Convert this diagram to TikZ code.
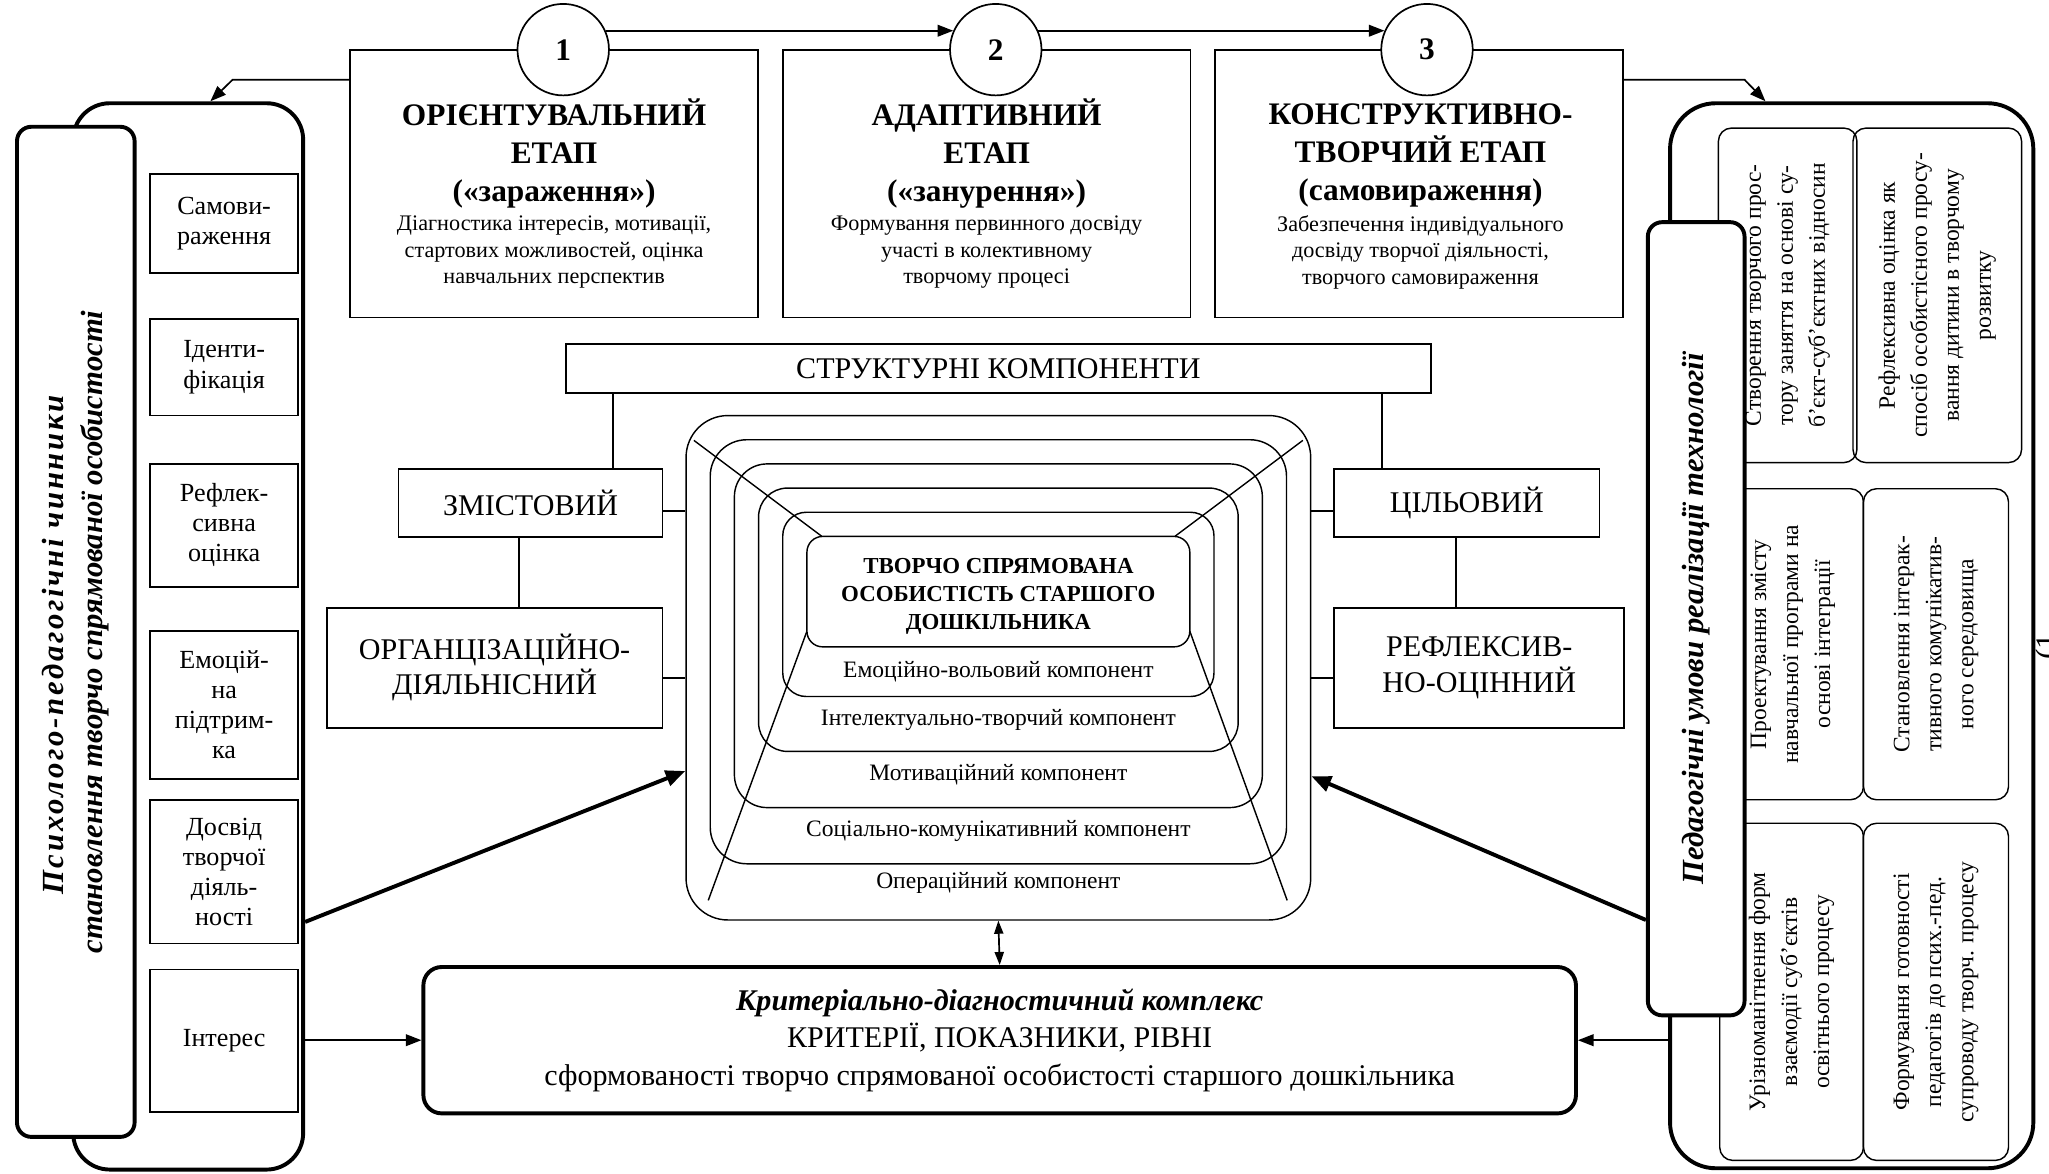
\documentclass[tikz,border=0pt]{standalone}
\usepackage{fontspec}
\setmainfont{Liberation Serif}
\usetikzlibrary{arrows.meta,calc}

\tikzset{
  stagebox/.style={draw, line width=1.3pt, minimum width=312pt, minimum height=205pt, inner sep=0pt},
  stagenum/.style={draw, circle, fill=white, line width=1.3pt, minimum size=70pt, inner sep=0pt, font=\fontsize{24}{28}\selectfont\bfseries},
  stagehead/.style={align=center, inner sep=0pt, font=\fontsize{24}{29}\selectfont\bfseries},
  stagetext/.style={align=center, inner sep=0pt, font=\fontsize{17}{20.5}\selectfont},
  panel/.style={draw, line width=3pt, rounded corners=#1, inner sep=0pt},
  tallpanel/.style={draw, fill=white, line width=3pt, rounded corners=11pt, rotate=90, align=center, inner sep=0pt, font=\fontsize{23.5}{30}\selectfont\bfseries\itshape},
  factor/.style={draw, line width=1.3pt, minimum width=113pt, align=center, inner sep=0pt, font=\fontsize{20}{23}\selectfont},
  compbox/.style={draw, line width=1.3pt, align=center, inner sep=0pt, font=\fontsize{23}{27}\selectfont},
  ring/.style={draw, line width=1.1pt, rounded corners=#1, inner sep=0pt},
  ringlabel/.style={inner sep=0pt, font=\fontsize{18}{21}\selectfont},
  condbox/.style={draw, line width=1.1pt, rounded corners=10pt, rotate=90, align=center, inner sep=0pt, font=\fontsize{18}{24.5}\selectfont},
  link/.style={line width=1.3pt},
  arr/.style={line width=1.3pt, -{Triangle[length=12pt,width=9pt]}},
  dblarr/.style={line width=1.3pt, {Triangle[length=10pt,width=7pt]}-{Triangle[length=10pt,width=7pt]}},
  thickarr/.style={line width=3pt, -{Triangle[length=15pt,width=12pt]}},
}

\begin{document}
\begin{tikzpicture}[x=1pt,y=1pt,yscale=-1,xscale=1]
  \useasboundingbox (0,0) rectangle (1568,898);
  %
  %Stages
  \node[stagebox] (st1) at (424,140.5) {};
  \node[stagebox] (st2) at (755,140.5) {};
  \node[stagebox] (st3) at (1086,140.5) {};
  \node[stagenum] (c1) at (431,38) {1};
  \node[stagenum] (c2) at (762,38) {2};
  \node[stagenum] (c3) at (1092,38) {3};
  \draw[arr] (c1.24) -- (c2.156);
  \draw[arr] (c2.24) -- (c3.156);
  \node[stagehead] (st1h) at (424,117.5) {ОРІЄНТУВАЛЬНИЙ\\ЕТАП\\(«зараження»)};
  \node[stagetext] (st1d) at (424,193) {Діагностика інтересів, мотивації,\\стартових можливостей, оцінка\\навчальних перспектив};
  \node[stagehead] (st2h) at (755,117.5) {АДАПТИВНИЙ\\ЕТАП\\(«занурення»)};
  \node[stagetext] (st2d) at (755,193) {Формування первинного досвіду\\участі в колективному\\творчому процесі};
  \node[stagehead] (st3h) at (1087,119) {КОНСТРУКТИВНО-\\ТВОРЧИЙ ЕТАП\\(самовираження)};
  \node[stagetext] (st3d) at (1087,193) {Забезпечення індивідуального\\досвіду творчої діяльності,\\творчого самовираження};
  %
  %Left panel
  \node[panel=28pt, minimum width=176pt, minimum height=816pt] (lp) at (144,487) {};
  \node[factor, minimum height=76pt] (f1) at (171.5,171) {Самови-\\раження};
  \node[factor, minimum height=74pt] (f2) at (171.5,281) {Іденти-\\фікація};
  \node[factor, minimum height=94pt] (f3) at (171.5,402) {Рефлек-\\сивна\\оцінка};
  \node[factor, minimum height=113pt] (f4) at (171.5,539.5) {Емоцій-\\на\\підтрим-\\ка};
  \node[factor, minimum height=110pt] (f5) at (171.5,667) {Досвід\\творчої\\діяль-\\ності};
  \node[factor, minimum height=109pt] (f6) at (171.5,796.5) {Інтерес};
  \node[tallpanel, minimum width=773pt, minimum height=90pt] (lpt) at (58,483.5)
    {{\addfontfeature{LetterSpace=9}Психолого-педагогічні чинники}\hspace*{20pt}\\становлення творчо спрямованої особистості};
  %
  %Structure
  \node[compbox, minimum width=662pt, minimum height=38pt] (sk) at (764,282) {СТРУКТУРНІ КОМПОНЕНТИ};
  \node[compbox, minimum width=202pt, minimum height=52pt] (zm) at (406,385) {ЗМІСТОВИЙ};
  \node[compbox, minimum width=257pt, minimum height=92pt] (org) at (378.5,511) {ОРГАНЦІЗАЦІЙНО-\\ДІЯЛЬНІСНИЙ};
  \node[compbox, minimum width=203pt, minimum height=52pt] (cl) at (1122.5,385) {ЦІЛЬОВИЙ};
  \node[compbox, minimum width=222pt, minimum height=92pt] (rfo) at (1132,511) {РЕФЛЕКСИВ-\\НО-ОЦІННИЙ};
  %
  %Rings
  \foreach \k/\bot/\rad in {0/704/32, 1/661/28, 2/618/25, 3/575/22, 4/533/18} {
    \pgfmathsetmacro\rw{478-37*\k}
    \pgfmathsetmacro\rh{\bot-318-18.5*\k}
    \pgfmathsetmacro\ry{(\bot+318+18.5*\k)/2}
    \node[ring=\rad pt, minimum width=\rw pt, minimum height=\rh pt] (ring\k) at (764,\ry) {};
  }
  \draw[line width=1.1pt] (531,337) -- (629,410.5);
  \draw[line width=1.1pt] (997,337) -- (899,410.5);
  \draw[line width=1.1pt] (617.5,483) -- (542,689);
  \draw[line width=1.1pt] (910.5,483) -- (985,689);
  \node[ring=12pt, fill=white, minimum width=293pt, minimum height=84.5pt] (core) at (764,452.75) {};
  \node[align=center, inner sep=0pt, font=\fontsize{17.5}{21.5}\selectfont\bfseries] (coret) at (764,456.5)
    {ТВОРЧО СПРЯМОВАНА\\ОСОБИСТІСТЬ СТАРШОГО\\ДОШКІЛЬНИКА};
  \node[ringlabel] (lb1) at (764,514) {Емоційно-вольовий компонент};
  \node[ringlabel] (lb2) at (764,551) {Інтелектуально-творчий компонент};
  \node[ringlabel] (lb3) at (764,593) {Мотиваційний компонент};
  \node[ringlabel] (lb4) at (764,636) {Соціально-комунікативний компонент};
  \node[ringlabel] (lb5) at (764,676) {Операційний компонент};
  %
  %Structure links
  \coordinate (skl) at ([xshift=37pt]sk.south west);
  \coordinate (skr) at ([xshift=-38pt]sk.south east);
  \coordinate (zml) at ([xshift=-9pt]zm.south);
  \coordinate (cll) at ([xshift=-8.5pt]cl.south);
  \draw[link] (skl) -- (skl |- zm.north);
  \draw[link] (skr) -- (skr |- cl.north);
  \draw[link] (zml) -- (zml |- org.north);
  \draw[link] (cll) -- (cll |- rfo.north);
  \coordinate (zme) at ($(zm.east)+(0,6)$);
  \coordinate (orge) at ($(org.east)+(0,8)$);
  \coordinate (clw) at ($(cl.west)+(0,6)$);
  \coordinate (rfow) at ($(rfo.west)+(0,8)$);
  \draw[link] (zme) -- (zme -| ring0.west);
  \draw[link] (orge) -- (orge -| ring0.west);
  \draw[link] (clw) -- (clw -| ring0.east);
  \draw[link] (rfow) -- (rfow -| ring0.east);
  %
  %Criteria
  \node[panel=14pt, minimum width=882pt, minimum height=112pt, align=center,
    font=\fontsize{23}{28.5}\selectfont] (kr) at (765,796)
    {\textbf{\textit{Критеріально-діагностичний комплекс}}\\КРИТЕРІЇ, ПОКАЗНИКИ, РІВНІ\\сформованості творчо спрямованої особистості старшого дошкільника};
  \draw[dblarr] (ring0.south) -- (kr.north);
  %
  %Right panel
  \node[panel=35pt, minimum width=278pt, minimum height=815pt] (rp) at (1417,486.5) {};
  \node[condbox, minimum width=256pt, minimum height=106pt] (ra) at (1368,226)
    {Створення творчого прос-\\тору заняття на основі су-\\б’єкт-суб’єктних відносин};
  \node[condbox, minimum width=256pt, minimum height=129pt] (rb) at (1482.5,226)
    {Рефлексивна оцінка як\\спосіб особистісного просу-\\вання дитини в творчому\\розвитку};
  \node[condbox, minimum width=238pt, minimum height=108pt] (rc) at (1372,493)
    {Проектування змісту\\навчальної програми на\\основі інтеграції};
  \node[condbox, minimum width=238pt, minimum height=111pt] (rd) at (1481.5,493)
    {Становлення інтерак-\\тивного комунікатив-\\ного середовища};
  \node[condbox, minimum width=258pt, minimum height=110pt] (re) at (1371,759)
    {Урізноманітнення форм\\взаємодії суб’єктів\\освітнього процесу};
  \node[condbox, minimum width=258pt, minimum height=111pt] (rff) at (1481.5,759)
    {Формування готовності\\педагогів до псих.-пед.\\супроводу творч. процесу};
  \node[tallpanel, minimum width=607pt, minimum height=74pt] (rpt) at (1298,473.5)
    {Педагогічні умови реалізації технології};
  \node[rotate=90, anchor=north, inner sep=0pt, font=\fontsize{24}{28}\selectfont] (cut) at (1558,495) {(1};
  %
  %Arrows
  \coordinate (lk) at (178,61);
  \coordinate (rk) at (1335,61);
  \draw[arr] (st1.west |- lk) -- (lk) -- ([xshift=17pt]lp.north);
  \draw[arr] (st3.east |- rk) -- (rk) -- ([xshift=-66pt]rp.north);
  \draw[arr] (lp.east |- kr.west) -- (kr.west);
  \draw[arr] (rp.west |- kr.east) -- (kr.east);
  \draw[thickarr] ($(lp.south east)+(0,-191)$) -- ($(ring0.west)+(0,79)$);
  \draw[thickarr] ($(rpt.north)+(0,230.5)$) -- ($(ring0.east)+(0,83)$);
\end{tikzpicture}
\end{document}
